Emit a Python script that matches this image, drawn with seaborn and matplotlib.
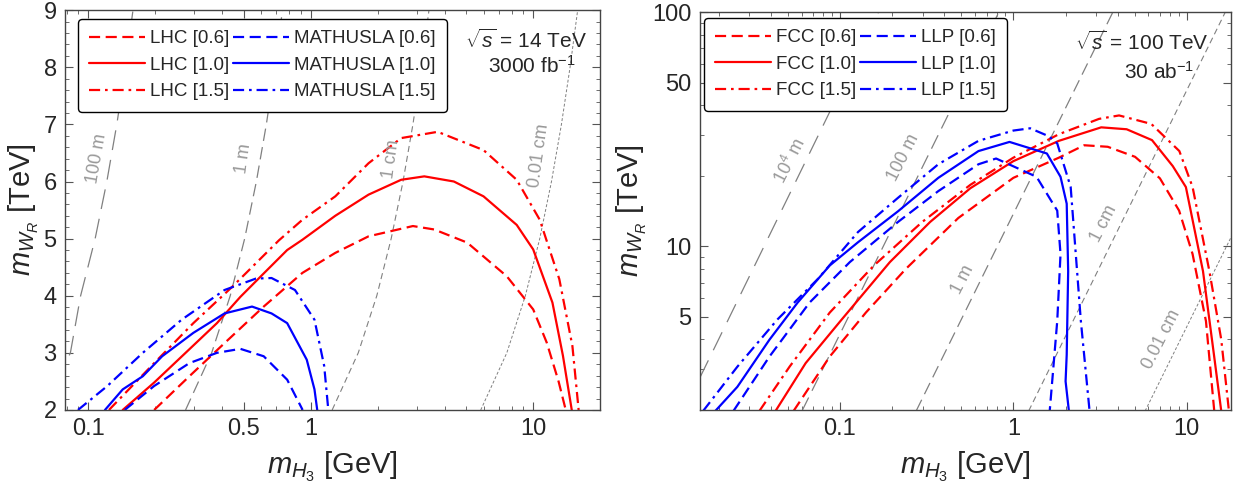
import matplotlib
matplotlib.use("Agg")
import matplotlib.pyplot as plt
import seaborn as sns
from matplotlib.ticker import FixedLocator, NullFormatter, FixedFormatter

# ---------------- data ----------------
# left panel: LHC / MATHUSLA, sqrt(s)=14 TeV (x: m_H3 in GeV, y: m_WR in TeV)
lhc06_x = [0.198, 0.285, 0.41, 0.615, 0.918, 1.29, 1.82, 2.88, 3.59, 5.05, 7.61, 10.0, 11.5, 13.0, 14.0]
lhc06_y = [2.0, 2.59, 3.17, 3.81, 4.40, 4.75, 5.04, 5.22, 5.16, 4.93, 4.34, 3.76, 3.18, 2.5, 2.0]
lhc10_x = [0.143, 0.198, 0.274, 0.379, 0.483, 0.615, 0.784, 0.918, 1.29, 1.82, 2.55, 3.24, 4.40, 5.98,
           8.43, 10.0, 12.2, 13.6, 14.9]
lhc10_y = [2.0, 2.48, 3.0, 3.52, 3.98, 4.39, 4.80, 4.98, 5.40, 5.77, 6.03, 6.09, 6.0, 5.74,
           5.24, 4.81, 3.88, 2.95, 2.0]
lhc15_x = [0.124, 0.198, 0.297, 0.445, 0.72, 0.918, 1.29, 1.82, 2.55, 3.72, 5.98, 8.43, 10.7, 13.1, 15.0, 16.0]
lhc15_y = [2.0, 2.82, 3.52, 4.16, 4.97, 5.33, 5.74, 6.32, 6.76, 6.87, 6.55, 6.03, 5.33, 4.29, 3.12, 2.0]

mat06_x = [0.146, 0.198, 0.285, 0.379, 0.483, 0.615, 0.784, 0.92]
mat06_y = [2.0, 2.42, 2.82, 3.0, 3.07, 2.94, 2.53, 2.0]
mat10_x = [0.119, 0.143, 0.176, 0.215, 0.297, 0.41, 0.545, 0.667, 0.784, 0.96, 1.04, 1.07]
mat10_y = [2.0, 2.36, 2.59, 2.94, 3.35, 3.69, 3.81, 3.69, 3.52, 2.88, 2.36, 2.0]
mat15_x = [0.090, 0.122, 0.176, 0.263, 0.41, 0.567, 0.667, 0.85, 1.04, 1.15, 1.2]
mat15_y = [2.0, 2.42, 3.0, 3.58, 4.10, 4.30, 4.31, 4.10, 3.58, 2.77, 2.0]

# decay-length guide curves, left panel
guide_y = [2, 3, 4, 5, 6, 7, 8, 9]
g100m_x = [0.0635, 0.0832, 0.0925, 0.1075, 0.1213, 0.1345, 0.147, 0.159]
g1m_x = [0.274, 0.359, 0.435, 0.505, 0.570, 0.632, 0.690, 0.747]
g1cm_x = [1.249, 1.636, 1.982, 2.30, 2.60, 2.88, 3.15, 3.40]
g001cm_x = [5.81, 7.61, 9.22, 10.70, 12.08, 13.39, 14.64, 15.84]

# right panel: FCC / LLP, sqrt(s)=100 TeV
fcc06_x = [0.054, 0.0873, 0.141, 0.240, 0.481, 1.0, 1.83, 2.56, 3.5, 5.03, 7.0, 9.03, 10.8, 12.9, 14.4]
fcc06_y = [1.98, 3.38, 5.21, 8.01, 13.2, 19.6, 23.9, 27.0, 26.6, 24.1, 19.5, 14.2, 9.26, 4.79, 1.98]
fcc10_x = [0.0425, 0.0634, 0.1024, 0.194, 0.331, 0.565, 1.0, 1.83, 3.21, 4.5, 6.30, 8.3, 9.88, 12.4, 14.3, 15.8]
fcc10_y = [1.98, 3.17, 4.87, 8.56, 12.7, 17.7, 23.1, 28.2, 32.2, 31.6, 28.4, 22.0, 17.9, 7.83, 3.5, 1.98]
fcc15_x = [0.0343, 0.0512, 0.0873, 0.157, 0.298, 0.565, 1.0, 1.83, 3.12, 4.07, 6.24, 9.06, 10.8, 13.5, 15.8, 17.5]
fcc15_y = [1.98, 3.06, 5.21, 8.28, 12.7, 18.3, 23.9, 30.1, 35.0, 36.2, 33.3, 25.5, 17.9, 7.83, 4.0, 1.98]

llp06_x = [0.0243, 0.0392, 0.0668, 0.114, 0.216, 0.369, 0.629, 0.795, 1.36, 1.79, 1.87, 1.79, 1.62]
llp06_y = [1.98, 3.38, 5.75, 8.56, 12.7, 17.2, 22.4, 23.7, 19.8, 14.2, 9.26, 4.79, 1.98]
llp10_x = [0.0191, 0.0256, 0.0392, 0.0570, 0.0873, 0.127, 0.216, 0.369, 0.629, 0.95, 1.56, 1.87,
           2.03, 2.07, 2.03, 2.0, 2.09]
llp10_y = [1.98, 2.51, 3.99, 5.75, 8.28, 10.4, 14.1, 19.6, 25.5, 27.9, 24.9, 19.8,
           15.2, 7.83, 3.44, 2.65, 1.98]
llp15_x = [0.01625, 0.0256, 0.0436, 0.0744, 0.127, 0.216, 0.369, 0.629, 1.0, 1.25, 1.60, 1.79,
           2.14, 2.29, 2.45, 2.75]
llp15_y = [1.98, 3.06, 4.87, 7.24, 11.5, 16.1, 22.4, 28.2, 31.2, 31.9, 29.5, 27.5,
           17.9, 9.26, 4.79, 1.98]

# decay-length guide lines, right panel (end points)
r104m_x, r104m_y = [0.0155, 0.166], [2.73, 99.3]
r100m_x, r100m_y = [0.0604, 0.821], [1.98, 99.3]
r1m_x, r1m_y = [0.275, 3.73], [1.98, 99.3]
r1cm_x, r1cm_y = [1.225, 16.6], [1.98, 99.3]
r001cm_x, r001cm_y = [5.75, 20.0], [1.98, 12.8]

left_labels = ['LHC [0.6]', 'LHC [1.0]', 'LHC [1.5]', 'MATHUSLA [0.6]', 'MATHUSLA [1.0]', 'MATHUSLA [1.5]']
right_labels = ['FCC [0.6]', 'FCC [1.0]', 'FCC [1.5]', 'LLP [0.6]', 'LLP [1.0]', 'LLP [1.5]']

# ---------------- style ----------------
sns.set_style("ticks")
plt.rcParams['font.family'] = ['Liberation Sans', 'DejaVu Sans']
plt.rcParams['mathtext.fontset'] = 'custom'
plt.rcParams['mathtext.rm'] = 'Liberation Sans'
plt.rcParams['mathtext.it'] = 'Liberation Sans:italic'
plt.rcParams['mathtext.bf'] = 'Liberation Sans:bold'

RED = '#ff0000'
BLUE = '#0000ff'
GRAY = '#808080'
DASH = (0, (5, 2.5))
DASHDOT = (0, (5, 2.2, 1.2, 2.2))
styles = [DASH, '-', DASHDOT]

fig = plt.figure(figsize=(12.36, 4.84), dpi=100)
ax1 = fig.add_axes([0.0526, 0.153, 0.433, 0.826])
ax2 = fig.add_axes([0.566, 0.153, 0.430, 0.822])


def curve(ax, x, y, color, ls, lw=1.6):
    sns.lineplot(x=x, y=y, ax=ax, sort=False, estimator=None, color=color,
                 linestyle=ls, lw=lw)
    return ax.lines[-1]


def frame(ax):
    for sp in ax.spines.values():
        sp.set_color('#444444')
        sp.set_linewidth(1.0)
    ax.tick_params(which='both', direction='in', top=True, right=True, color='#555555')
    ax.tick_params(which='major', length=6, width=0.8, labelsize=17, pad=6)
    ax.tick_params(which='minor', length=3, width=0.6)


# ---------------- left panel ----------------
gl = [(g100m_x, (0, (16, 8)), 0.9), (g1m_x, (0, (10, 5)), 0.9),
      (g1cm_x, (0, (5.5, 3.5)), 0.8), (g001cm_x, (0, (3, 2)), 0.7)]
for gx, ls, lw in gl:
    sns.lineplot(x=gx, y=guide_y, ax=ax1, sort=False, estimator=None, color=GRAY, linestyle=ls, lw=lw)

h1 = []
for (x, y), ls in zip([(lhc06_x, lhc06_y), (lhc10_x, lhc10_y), (lhc15_x, lhc15_y)], styles):
    h1.append(curve(ax1, x, y, RED, ls))
for (x, y), ls in zip([(mat06_x, mat06_y), (mat10_x, mat10_y), (mat15_x, mat15_y)], styles):
    h1.append(curve(ax1, x, y, BLUE, ls))

ax1.set_xscale('log')
ax1.set_xlim(0.0787, 20)
ax1.set_ylim(2, 9)
ax1.xaxis.set_major_locator(FixedLocator([0.1, 0.5, 1, 10]))
ax1.xaxis.set_major_formatter(FixedFormatter(['0.1', '0.5', '1', '10']))
ax1.xaxis.set_minor_locator(FixedLocator([0.08, 0.09, 0.2, 0.3, 0.4, 0.6, 0.7, 0.8, 0.9,
                                          2, 3, 4, 5, 6, 7, 8, 9, 20]))
ax1.xaxis.set_minor_formatter(NullFormatter())
ax1.yaxis.set_major_locator(FixedLocator([2, 3, 4, 5, 6, 7, 8, 9]))
ax1.yaxis.set_minor_locator(FixedLocator([2 + 0.2 * i for i in range(36)]))
frame(ax1)
ax1.set_xlabel('$m_{H_3}$ [GeV]', fontsize=21, labelpad=7)
ax1.set_ylabel('$m_{W_R}$ [TeV]', fontsize=21, labelpad=2)

for txt, x, y, rot in [('100 m', 0.110, 6.4, 80), ('1 m', 0.50, 6.4, 82),
                       ('1 cm', 2.29, 6.4, 82), ('0.01 cm', 10.6, 6.45, 82)]:
    ax1.text(x, y, txt, rotation=rot, color='#999999', fontsize=13, ha='center', va='center')

leg1 = ax1.legend(h1, left_labels, ncol=2, loc='upper left', bbox_to_anchor=(0.024, 0.978),
                  fontsize=13.5, handlelength=3.0, handletextpad=0.25, columnspacing=0.2,
                  labelspacing=0.5, borderpad=0.6, borderaxespad=0, fancybox=True,
                  framealpha=1, edgecolor='black')
leg1.get_frame().set_linewidth(1.0)
ax1.text(0.862, 0.925, r'$\sqrt{s}$ = 14 TeV', transform=ax1.transAxes, ha='center', va='center', fontsize=15)
ax1.text(0.873, 0.860, r'3000 fb$^{-1}$', transform=ax1.transAxes, ha='center', va='center', fontsize=15)

# ---------------- right panel ----------------
gr = [(r104m_x, r104m_y, (0, (16, 9)), 0.9), (r100m_x, r100m_y, (0, (12, 6)), 0.9),
      (r1m_x, r1m_y, (0, (10, 5)), 0.9), (r1cm_x, r1cm_y, (0, (5.5, 3.5)), 0.8),
      (r001cm_x, r001cm_y, (0, (3, 2)), 0.7)]
for gx, gy, ls, lw in gr:
    sns.lineplot(x=gx, y=gy, ax=ax2, sort=False, estimator=None, color=GRAY, linestyle=ls, lw=lw)

h2 = []
for (x, y), ls in zip([(fcc06_x, fcc06_y), (fcc10_x, fcc10_y), (fcc15_x, fcc15_y)], styles):
    h2.append(curve(ax2, x, y, RED, ls))
for (x, y), ls in zip([(llp06_x, llp06_y), (llp10_x, llp10_y), (llp15_x, llp15_y)], styles):
    h2.append(curve(ax2, x, y, BLUE, ls))

ax2.set_xscale('log')
ax2.set_yscale('log')
ax2.set_xlim(0.0155, 18)
ax2.set_ylim(2, 100)
ax2.xaxis.set_major_locator(FixedLocator([0.1, 1, 10]))
ax2.xaxis.set_major_formatter(FixedFormatter(['0.1', '1', '10']))
ax2.xaxis.set_minor_locator(FixedLocator([0.02, 0.03, 0.04, 0.05, 0.06, 0.07, 0.08, 0.09,
                                          0.2, 0.3, 0.4, 0.5, 0.6, 0.7, 0.8, 0.9,
                                          2, 3, 4, 5, 6, 7, 8, 9]))
ax2.xaxis.set_minor_formatter(NullFormatter())
ax2.yaxis.set_major_locator(FixedLocator([5, 10, 50, 100]))
ax2.yaxis.set_major_formatter(FixedFormatter(['5', '10', '50', '100']))
ax2.yaxis.set_minor_locator(FixedLocator([2, 3, 4, 6, 7, 8, 9, 20, 30, 40, 60, 70, 80, 90]))
ax2.yaxis.set_minor_formatter(NullFormatter())
frame(ax2)
ax2.set_xlabel('$m_{H_3}$ [GeV]', fontsize=21, labelpad=7)
ax2.set_ylabel('$m_{W_R}$ [TeV]', fontsize=21, labelpad=2)

for txt, x, y in [('$10^4$ m', 0.0512, 23.1), ('100 m', 0.231, 23.9), ('1 m', 0.513, 7.24),
                  ('1 cm', 3.32, 12.5), ('0.01 cm', 7.13, 3.99)]:
    ax2.text(x, y, txt, rotation=63, color='#999999', fontsize=13, ha='center', va='center')

leg2 = ax2.legend(h2, right_labels, ncol=2, loc='upper left', bbox_to_anchor=(0.008, 0.985),
                  fontsize=13.5, handlelength=3.0, handletextpad=0.25, columnspacing=0.2,
                  labelspacing=0.5, borderpad=0.6, borderaxespad=0, fancybox=True,
                  framealpha=1, edgecolor='black')
leg2.get_frame().set_linewidth(1.0)
ax2.text(0.832, 0.925, r'$\sqrt{s}$ = 100 TeV', transform=ax2.transAxes, ha='center', va='center', fontsize=15)
ax2.text(0.865, 0.850, r'30 ab$^{-1}$', transform=ax2.transAxes, ha='center', va='center', fontsize=15)

fig.savefig('out.png', dpi=100)
